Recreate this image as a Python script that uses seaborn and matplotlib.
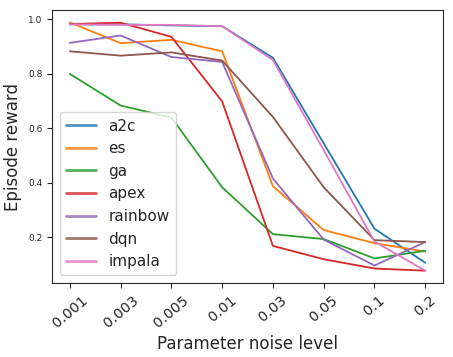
import pandas as pd
import matplotlib
matplotlib.use('Agg')
import matplotlib.pyplot as plt
import seaborn as sns

noise_levels = ['0.001', '0.003', '0.005', '0.01', '0.03', '0.05', '0.1', '0.2']
algos = ['a2c', 'es', 'ga', 'apex', 'rainbow', 'dqn', 'impala']

a2c = [0.982, 0.982, 0.978, 0.975, 0.859, 0.545, 0.232, 0.107]
es = [0.989, 0.913, 0.925, 0.883, 0.388, 0.227, 0.179, 0.148]
ga = [0.800, 0.684, 0.640, 0.384, 0.212, 0.194, 0.123, 0.151]
apex = [0.983, 0.988, 0.936, 0.699, 0.169, 0.120, 0.086, 0.078]
rainbow = [0.914, 0.941, 0.862, 0.844, 0.416, 0.192, 0.097, 0.183]
dqn = [0.883, 0.867, 0.879, 0.849, 0.642, 0.384, 0.190, 0.183]
impala = [0.982, 0.980, 0.980, 0.975, 0.851, 0.520, 0.185, 0.078]

series = [a2c, es, ga, apex, rainbow, dqn, impala]

# long format table for seaborn
rows = []
for name, vals in zip(algos, series):
    for lvl, v in zip(noise_levels, vals):
        rows.append({'noise': lvl, 'reward': v, 'algo': name})
df = pd.DataFrame(rows)

sns.set_style('ticks')
fig = plt.figure(figsize=(4.53, 3.57), dpi=100)
ax = fig.add_axes([0.115, 0.207, 0.863, 0.765])

sns.lineplot(data=df, x='noise', y='reward', hue='algo', hue_order=algos,
             palette='tab10', sort=False, linewidth=1.3, ax=ax)

ax.set_xlabel('Parameter noise level', fontsize=12)
ax.set_ylabel('Episode reward', fontsize=12)
ax.tick_params(axis='y', labelsize=6.5)
ax.tick_params(axis='x', labelsize=10.3, labelrotation=40)
for lbl in ax.get_xticklabels():
    lbl.set_ha('center')

leg = ax.legend(loc='lower left', fontsize=11)
for h in leg.get_lines():
    h.set_linewidth(2)
    h.set_alpha(0.8)

fig.savefig('out.png', dpi=100)
